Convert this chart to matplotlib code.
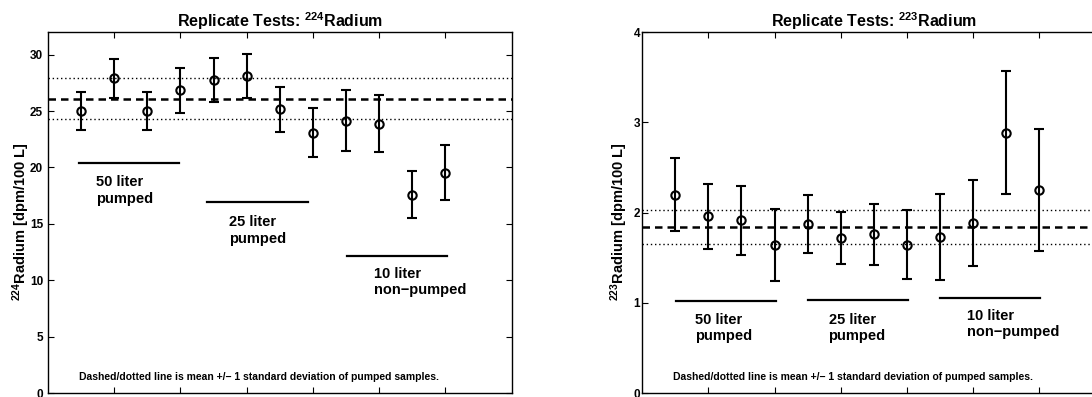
import numpy as np
import matplotlib
matplotlib.use("Agg")
import matplotlib.pyplot as plt

plt.rcParams['font.family'] = ['Liberation Sans', 'DejaVu Sans']
plt.rcParams['font.weight'] = 'bold'
plt.rcParams['mathtext.fontset'] = 'custom'
plt.rcParams['mathtext.rm'] = 'Liberation Sans:bold'
plt.rcParams['mathtext.bf'] = 'Liberation Sans:bold'
plt.rcParams['mathtext.it'] = 'Liberation Sans:bold'

# sample index 1..12 (first 8 are pumped samples)
samples = np.arange(1, 13)
n_pumped = 8

ra224 = [25.0, 27.9, 25.0, 26.85, 27.8, 28.1, 25.15, 23.1, 24.15, 23.9, 17.6, 19.55]
ra224_err = [1.65, 1.72, 1.7, 2.0, 1.95, 1.95, 1.97, 2.2, 2.7, 2.5, 2.05, 2.45]

ra223 = [2.2, 1.96, 1.915, 1.64, 1.87, 1.72, 1.76, 1.645, 1.73, 1.885, 2.885, 2.25]
ra223_err = [0.4, 0.36, 0.38, 0.4, 0.32, 0.29, 0.34, 0.38, 0.48, 0.48, 0.68, 0.68]

group_labels = ["50 liter\npumped", "25 liter\npumped", "10 liter\nnon\u2212pumped"]
footer = "Dashed/dotted line is mean +/\u2212 1 standard deviation of pumped samples."


def draw_panel(ax, vals, errs, iso, ylim, yticks, bars, texts, foot_y,
               tick_pad, ylabel_x):
    vals = np.array(vals)
    mean = vals[:n_pumped].mean()
    sd = vals[:n_pumped].std(ddof=1)

    # mean (dashed) and +/- 1 sd (dotted) of pumped samples
    ax.axhline(mean, color='black', lw=1.8, linestyle=(0, (3, 2)), zorder=1)
    ax.axhline(mean + sd, color='black', lw=1.0, linestyle=(0, (1, 2)), zorder=1)
    ax.axhline(mean - sd, color='black', lw=1.0, linestyle=(0, (1, 2)), zorder=1)

    ax.errorbar(samples, vals, yerr=errs, fmt='o', mfc='none', mec='black',
                color='black', ms=6, mew=1.5, elinewidth=1.5, capsize=3.5,
                capthick=1.3, zorder=3)

    # group bars and labels
    for (x0, x1, y), (tx, ty), lab in zip(bars, texts, group_labels):
        ax.plot([x0, x1], [y, y], color='black', lw=1.6)
        ax.text(tx, ty, lab, ha='left', va='top', fontsize=10.5,
                fontweight='bold', linespacing=1.2)

    ax.text(0.93, foot_y, footer, ha='left', va='center', fontsize=7.5,
            fontweight='bold')

    ax.set_xlim(0, 14)
    ax.set_ylim(*ylim)
    ax.set_xticks(np.arange(2, 13, 2))
    ax.set_xticklabels([])
    ax.set_yticks(yticks)
    ax.tick_params(direction='in', top=True, right=True, length=4,
                   width=0.8, labelsize=8.5, pad=tick_pad)
    for lab in ax.get_yticklabels():
        lab.set_fontweight('bold')
    for s in ax.spines.values():
        s.set_linewidth(1.0)
    ax.set_title("Replicate Tests: $^{%s}$Radium" % iso, fontsize=11.5,
                 fontweight='bold', pad=3.5)
    ax.set_ylabel("$^{%s}$Radium [dpm/100 L]" % iso, fontsize=10.5,
                  fontweight='bold', va='center')
    ax.yaxis.set_label_coords(ylabel_x, 0.475)


fig = plt.figure(figsize=(10.92, 3.97), dpi=100)
ax1 = fig.add_axes([0.044, 0.010, 0.4245, 0.909])
ax2 = fig.add_axes([0.588, 0.010, 0.4245, 0.909])

draw_panel(ax1, ra224, ra224_err, "224", (0, 32), np.arange(0, 31, 5),
           bars=[(0.93, 3.97, 20.4), (4.8, 7.84, 16.9), (9.03, 12.05, 12.15)],
           texts=[(1.44, 19.3), (5.46, 15.75), (9.83, 11.2)],
           foot_y=1.45, tick_pad=3.5, ylabel_x=-0.058)

draw_panel(ax2, ra223, ra223_err, "223", (0, 4), np.arange(0, 5, 1),
           bars=[(1.03, 4.03, 1.02), (5.0, 8.03, 1.03), (9.0, 12.03, 1.055)],
           texts=[(1.59, 0.89), (5.63, 0.89), (9.82, 0.935)],
           foot_y=0.178, tick_pad=1.5, ylabel_x=-0.05)

fig.savefig("out.png", dpi=100)
